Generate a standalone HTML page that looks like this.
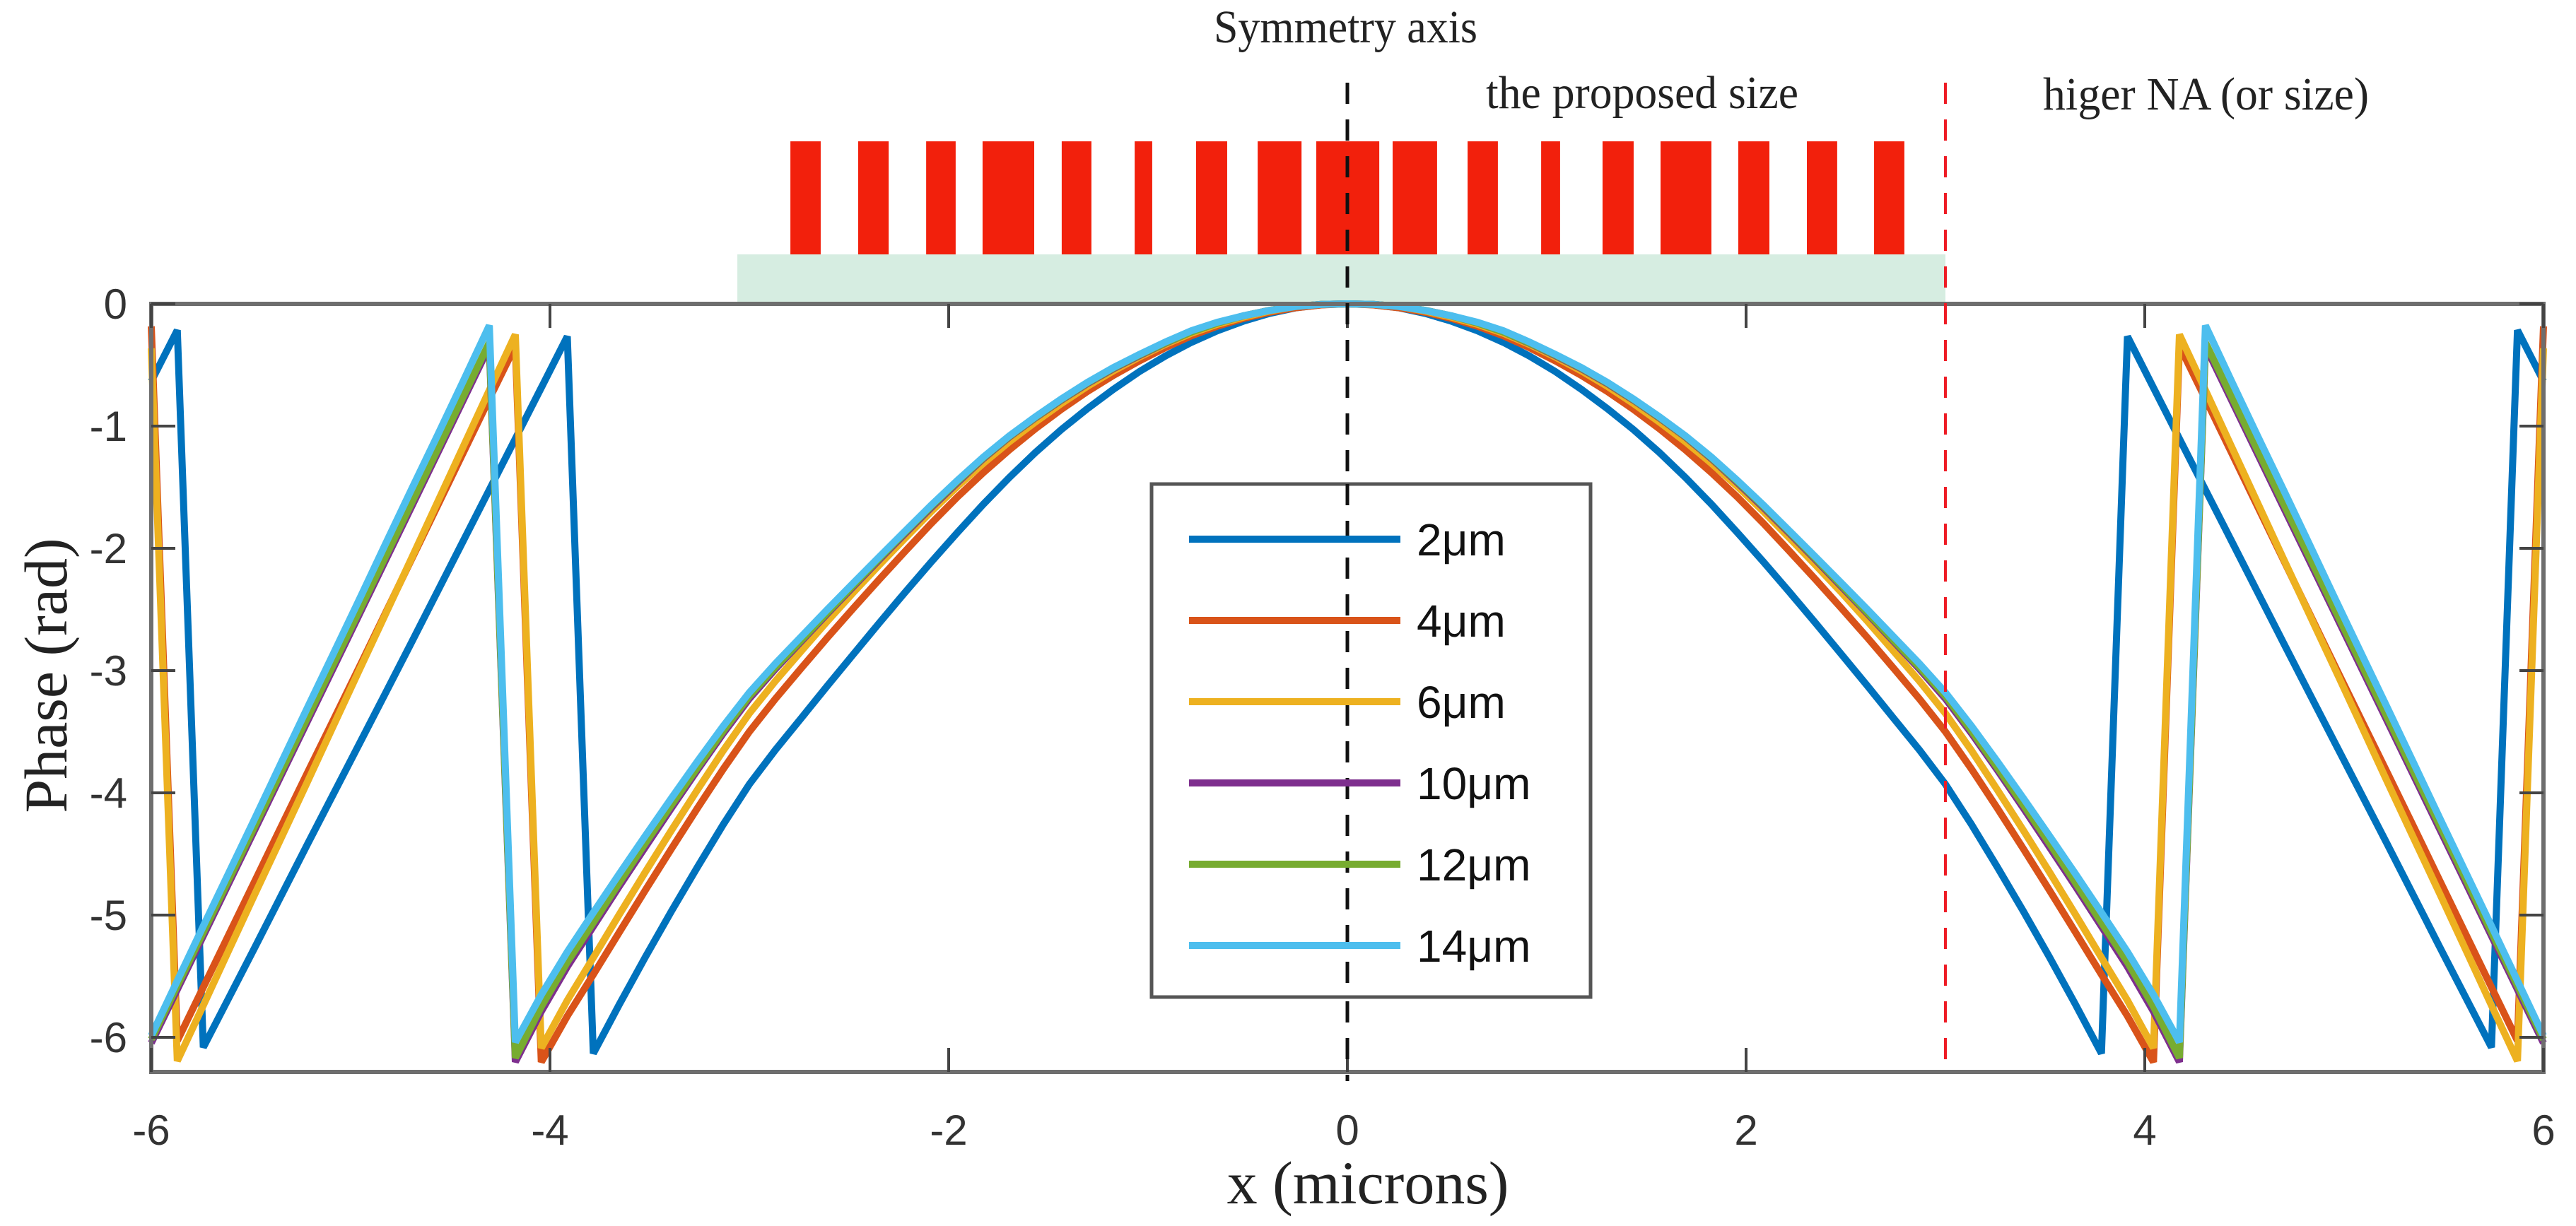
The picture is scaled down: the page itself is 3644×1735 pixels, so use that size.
<!DOCTYPE html>
<html><head><meta charset="utf-8"><style>
html,body{margin:0;padding:0;background:#fff;}
svg{display:block;}
</style></head><body>
<svg id="chart" width="3644" height="1735" viewBox="0 0 3644 1735" xmlns="http://www.w3.org/2000/svg">
<g id="deco"></g>
<g id="series"></g>
<g id="axes"></g>
<g id="annot"></g>
<g id="legend"></g>
</svg>
<script>
// ---- data ----
const sampleX = [0,0.25,0.5,0.75,1,1.25,1.5,1.75,2,2.25,2.5,2.75,3,3.25,3.5,3.75,4,4.25,4.5,4.75,5,5.25,5.5,5.75,6];
const phase2um  = [0,-0.03,-0.13,-0.29,-0.51,-0.79,-1.12,-1.51,-1.95,-2.42,-2.91,-3.41,-3.93,-4.58,-5.28,-6.03,-6.83,-7.63,-8.43,-9.23,-10.02,-10.81,-11.61,-12.40,-13.2];
const phase4um  = [0,-0.03,-0.11,-0.24,-0.43,-0.66,-0.94,-1.27,-1.65,-2.08,-2.53,-3.00,-3.50,-4.10,-4.74,-5.40,-6.07,-6.88,-7.72,-8.56,-9.40,-10.23,-11.07,-11.91,-12.75];
const phase6um  = [0,-0.02,-0.10,-0.22,-0.40,-0.62,-0.89,-1.20,-1.56,-1.97,-2.40,-2.86,-3.35,-3.95,-4.59,-5.26,-5.95,-6.80,-7.68,-8.56,-9.43,-10.31,-11.18,-12.06,-12.93];
const phase10um = [0,-0.02,-0.09,-0.21,-0.39,-0.60,-0.86,-1.16,-1.53,-1.93,-2.35,-2.78,-3.23,-3.79,-4.39,-5.01,-5.66,-6.45,-7.29,-8.13,-8.97,-9.81,-10.65,-11.49,-12.33];
const phase12um = [0,-0.02,-0.09,-0.21,-0.385,-0.595,-0.855,-1.155,-1.52,-1.92,-2.34,-2.77,-3.21,-3.77,-4.36,-4.98,-5.62,-6.42,-7.26,-8.10,-8.94,-9.78,-10.62,-11.46,-12.30];
const phase14um = [0,-0.02,-0.09,-0.20,-0.38,-0.59,-0.85,-1.15,-1.51,-1.91,-2.32,-2.74,-3.18,-3.72,-4.30,-4.90,-5.53,-6.28,-7.14,-7.99,-8.85,-9.70,-10.56,-11.41,-12.27];
const seriesNames = ["2μm","4μm","6μm","10μm","12μm","14μm"];
const seriesColors = ["#0072BD","#D95319","#EDB120","#7E2F8E","#77AC30","#4DBEEE"];
const xTicks = [-6,-4,-2,0,2,4,6];
const xTickLabels = ["-6","-4","-2","0","2","4","6"];
const yTicks = [0,-1,-2,-3,-4,-5,-6];
const yTickLabels = ["0","-1","-2","-3","-4","-5","-6"];
const barLeft  = [-2.794,-2.454,-2.113,-1.830,-1.433,-1.067,-0.759,-0.450,-0.156,0.227,0.603,0.972,1.280,1.571,1.961,2.305,2.642];
const barRight = [-2.642,-2.301,-1.965,-1.571,-1.284,-0.979,-0.603,-0.230,0.160,0.450,0.755,1.067,1.436,1.826,2.117,2.457,2.794];
const substrateRange = [-3.06, 3.0];
const symmetryX = 0;
const proposedEdgeX = 3;

// ---- layout ----
const L=214,R=3598,T=430,B=1517;
const X0=-6,X1=6,Y0=0,Y1=-2*Math.PI;
const sx=v=>L+(v-X0)/(X1-X0)*(R-L);
const sy=v=>T+(v-Y0)/(Y1-Y0)*(B-T);
const NS="http://www.w3.org/2000/svg";
function mk(tag,attrs,parent){const e=document.createElementNS(NS,tag);for(const k in attrs)e.setAttribute(k,attrs[k]);parent.appendChild(e);return e;}

// schematic
const deco=document.getElementById('deco');
let sub=mk('rect',{x:sx(substrateRange[0]),y:360,width:sx(substrateRange[1])-sx(substrateRange[0]),height:70,fill:'#d6ede1'},deco);


for(let i=0;i<barLeft.length;i++){
  const r=mk('rect',{x:sx(barLeft[i]),y:200,width:sx(barRight[i])-sx(barLeft[i]),height:160,fill:'#f2200c'},deco);
  
  
}

// series
const sg=document.getElementById('series');
const allPhases=[phase2um,phase4um,phase6um,phase10um,phase12um,phase14um];
const TWO=2*Math.PI;
function getP(arr,i){
  if(i<0) return arr[-i];               // symmetric about 0
  if(i>=arr.length) return 2*arr[arr.length-1]-arr[2*arr.length-2-i];
  return arr[i];
}
function interp(arr,ax){
  const a=Math.min(Math.abs(ax),6);
  let i=0;while(i<sampleX.length-2&&sampleX[i+1]<a)i++;
  const t=(a-sampleX[i])/(sampleX[i+1]-sampleX[i]);
  const p0=getP(arr,i-1),p1=getP(arr,i),p2=getP(arr,i+1),p3=getP(arr,i+2);
  const t2=t*t,t3=t2*t;
  return 0.5*((2*p1)+(-p0+p2)*t+(2*p0-5*p1+4*p2-p3)*t2+(-p0+3*p1-3*p2+p3)*t3);
}
function wrap(v){return -((-v)%TWO);}
const N=92;
allPhases.forEach((arr,si)=>{
  let d='';
  for(let k=0;k<=N;k++){
    const x=X0+(X1-X0)*k/N;
    const y=wrap(interp(arr,x));
    d+=(k?'L':'M')+sx(x).toFixed(1)+' '+sy(y).toFixed(1);
  }
  const p=mk('path',{d:d,fill:'none',stroke:seriesColors[si],'stroke-width':10,'stroke-linejoin':'miter','stroke-miterlimit':3},sg);
  
  
});

// axes
const ax=document.getElementById('axes');
mk('rect',{x:L,y:T,width:R-L,height:B-T,fill:'none',stroke:'#6e6e6e','stroke-width':6},ax);
xTicks.forEach((v,i)=>{
  mk('line',{x1:sx(v),y1:B,x2:sx(v),y2:B-34,stroke:'#444','stroke-width':4},ax);
  mk('line',{x1:sx(v),y1:T,x2:sx(v),y2:T+34,stroke:'#444','stroke-width':4},ax);
  const t=mk('text',{x:sx(v),y:1620,'text-anchor':'middle','font-family':'"Liberation Sans",sans-serif','font-size':60,fill:'#333'},ax);
  t.textContent=xTickLabels[i];
  
  
});
yTicks.forEach((v,i)=>{
  mk('line',{x1:L,y1:sy(v),x2:L+34,y2:sy(v),stroke:'#444','stroke-width':4},ax);
  mk('line',{x1:R,y1:sy(v),x2:R-34,y2:sy(v),stroke:'#444','stroke-width':4},ax);
  const t=mk('text',{x:180,y:sy(v)+21,'text-anchor':'end','font-family':'"Liberation Sans",sans-serif','font-size':60,fill:'#333'},ax);
  t.textContent=yTickLabels[i];
  
  
});
let xt=mk('text',{x:1935,y:1703,'text-anchor':'middle','font-family':'"Liberation Serif",serif','font-size':86,fill:'#222'},ax);
xt.textContent='x (microns)';


let yt=mk('text',{x:0,y:0,'text-anchor':'middle','font-family':'"Liberation Serif",serif','font-size':86,fill:'#222',transform:'translate(94,956) rotate(-90)'},ax);
yt.textContent='Phase (rad)';



// annotations
const an=document.getElementById('annot');
let sl=mk('line',{x1:sx(symmetryX),y1:117,x2:sx(symmetryX),y2:1530,stroke:'#111','stroke-width':5,'stroke-dasharray':'30 22'},an);


let rl=mk('line',{x1:sx(proposedEdgeX),y1:117,x2:sx(proposedEdgeX),y2:1517,stroke:'#ee1c25','stroke-width':4,'stroke-dasharray':'30 22'},an);


const labels=[['Symmetry axis',1717,60,373,'symmetry-axis-label'],['the proposed size',2102,153,442,'proposed-size-label'],['higer NA (or size)',2890,155,461,'higher-na-label']];
labels.forEach(l=>{
  const t=mk('text',{x:l[1],y:l[2],'font-family':'"Liberation Serif",serif','font-size':66,fill:'#222',textLength:l[3],lengthAdjust:'spacingAndGlyphs'},an);
  t.textContent=l[0];
  
  
});

// legend
const lg=document.getElementById('legend');
let box=mk('rect',{x:1629,y:685,width:621,height:726,fill:'#fff',stroke:'#555','stroke-width':5},lg);


mk('line',{x1:sx(symmetryX),y1:685,x2:sx(symmetryX),y2:1411,stroke:'#111','stroke-width':5,'stroke-dasharray':'30 22'},lg);
seriesNames.forEach((n,i)=>{
  const y=763+115*i;
  const ln=mk('line',{x1:1682,y1:y,x2:1981,y2:y,stroke:seriesColors[i],'stroke-width':10},lg);
  
  
  const t=mk('text',{x:2004,y:y+23,'font-family':'"Liberation Sans",sans-serif','font-size':64,fill:'#111'},lg);
  t.textContent=n;
  
  
});
</script>
</body></html>
